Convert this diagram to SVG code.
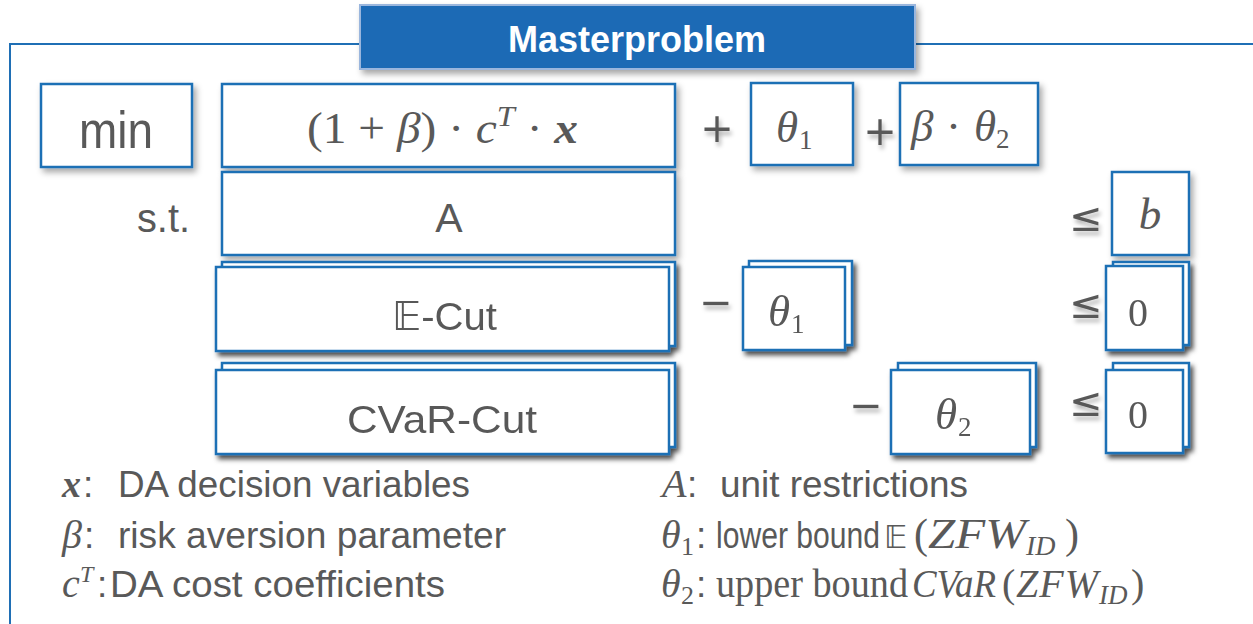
<svg xmlns="http://www.w3.org/2000/svg" width="1253" height="624" viewBox="0 0 1253 624">
  <defs>
    <filter id="shadow" x="-10%" y="-10%" width="130%" height="140%">
      <feDropShadow dx="3" dy="4" stdDeviation="3" flood-color="#000" flood-opacity="0.35"/>
    </filter>
    <filter id="shadowDark" x="-10%" y="-10%" width="130%" height="140%">
      <feDropShadow dx="3" dy="4" stdDeviation="2.5" flood-color="#000" flood-opacity="0.7"/>
    </filter>
    <filter id="glyphShadow" x="-30%" y="-30%" width="160%" height="180%">
      <feDropShadow dx="2" dy="4" stdDeviation="2" flood-color="#000" flood-opacity="0.3"/>
    </filter>
    <style>
      .frame { fill: none; stroke: #1F6FB5; stroke-width: 2; }
      .box { fill: #fff; stroke: #1F6FB5; stroke-width: 2.5; }
      .sans { font-family: "Liberation Sans", Arial, sans-serif; fill: #595959; }
      .math { font-family: "Liberation Serif", "DejaVu Serif", serif; fill: #595959; }
      .it { font-style: italic; }
      .bb { font-family: "DejaVu Sans", "DejaVu Serif", sans-serif; font-style: normal; }
      .op { font-family: "DejaVu Sans", "Liberation Serif", serif; fill: #595959; font-size: 40px; text-anchor: middle; filter: url(#glyphShadow); }
      .c { text-anchor: middle; }
    </style>
  </defs>

  <!-- outer frame -->
  <path class="frame" d="M10,624 V44 H360 M915,44 H1253"/>

  <!-- title -->
  <g id="title">
    <rect x="360" y="5" width="555" height="64" fill="#1A6BB5" stroke="#9AB6DD" stroke-width="2" filter="url(#shadow)"/>
    <text x="637" y="52" font-family="Liberation Sans, Arial, sans-serif" font-weight="bold" font-size="36" fill="#fff" text-anchor="middle">Masterproblem</text>
  </g>

  <!-- objective row -->
  <g id="min">
    <rect class="box" x="41" y="84" width="151" height="83" filter="url(#shadow)"/>
    <text class="sans" x="79" y="148" font-size="52" textLength="74" lengthAdjust="spacingAndGlyphs">min</text>
  </g>
  <g id="objective">
    <rect class="box" x="222" y="84" width="453" height="83" filter="url(#shadow)"/>
    <text class="math" x="307" y="143" font-size="44" textLength="271" lengthAdjust="spacingAndGlyphs">(1 + <tspan class="it">β</tspan>) · <tspan class="it">c</tspan><tspan class="it" font-size="30" dy="-17">T</tspan><tspan dy="17"> · </tspan><tspan class="it" font-weight="bold">x</tspan></text>
  </g>
  <g id="theta1-term">
    <rect class="box" x="751" y="83" width="102" height="82" filter="url(#shadow)"/>
    <text class="math" x="776" y="142" font-size="45"><tspan class="it">θ</tspan><tspan x="799" font-size="27" dy="7">1</tspan></text>
  </g>
  <g id="theta2-term">
    <rect class="box" x="900" y="83" width="138" height="82" filter="url(#shadow)"/>
    <text class="math" x="911" y="141" font-size="45"><tspan class="it">β</tspan><tspan x="946">·</tspan><tspan class="it" x="974">θ</tspan><tspan x="996" font-size="27" dy="7">2</tspan></text>
  </g>

  <!-- constraint rows -->
  <g id="st">
    <text class="sans" x="137" y="232" font-size="40" textLength="53" lengthAdjust="spacingAndGlyphs">s.t.</text>
  </g>
  <g id="A">
    <rect class="box" x="222" y="172" width="453" height="83" filter="url(#shadow)"/>
    <text class="sans c" x="449" y="232" font-size="41">A</text>
  </g>
  <g id="b">
    <rect class="box" x="1112" y="172" width="77" height="83" filter="url(#shadow)"/>
    <text class="math it c" x="1150" y="229" font-size="45">b</text>
  </g>

  <g id="e-cut" filter="url(#shadowDark)">
    <rect class="box" x="222" y="262" width="453" height="84"/>
    <rect class="box" x="216" y="267" width="453" height="84"/>
    <text class="sans" x="392" y="330" font-size="39" textLength="105" lengthAdjust="spacingAndGlyphs"><tspan class="bb">𝔼</tspan>-Cut</text>
  </g>
  <g id="theta1-cut" filter="url(#shadowDark)">
    <rect class="box" x="749" y="261" width="103" height="84"/>
    <rect class="box" x="743" y="267" width="102" height="83"/>
    <text class="math" x="768" y="326" font-size="45"><tspan class="it">θ</tspan><tspan x="791" font-size="27" dy="7">1</tspan></text>
  </g>
  <g id="zero-e" filter="url(#shadowDark)">
    <rect class="box" x="1113" y="262" width="76" height="83"/>
    <rect class="box" x="1106" y="266" width="77" height="84"/>
    <text class="math c" x="1138" y="326" font-size="40">0</text>
  </g>

  <g id="cvar-cut" filter="url(#shadowDark)">
    <rect class="box" x="222" y="363" width="453" height="84"/>
    <rect class="box" x="216" y="370" width="453" height="84"/>
    <text class="sans" x="347" y="433" font-size="39" textLength="190" lengthAdjust="spacingAndGlyphs">CVaR-Cut</text>
  </g>
  <g id="theta2-cut" filter="url(#shadowDark)">
    <rect class="box" x="898" y="363" width="138" height="84"/>
    <rect class="box" x="891" y="370" width="139" height="84"/>
    <text class="math" x="935" y="429" font-size="45"><tspan class="it">θ</tspan><tspan x="958" font-size="27" dy="7">2</tspan></text>
  </g>
  <g id="zero-cvar" filter="url(#shadowDark)">
    <rect class="box" x="1113" y="363" width="76" height="84"/>
    <rect class="box" x="1106" y="370" width="77" height="83"/>
    <text class="math c" x="1138" y="428" font-size="40">0</text>
  </g>

  <!-- operators between the terms -->
  <g id="operators">
    <text class="op" x="717" y="142">+</text>
    <text class="op" x="880" y="145">+</text>
    <text class="op" x="1086" y="231">≤</text>
    <text class="op" x="716" y="316">−</text>
    <text class="op" x="1086" y="318">≤</text>
    <text class="op" x="866" y="419">−</text>
    <text class="op" x="1086" y="416">≤</text>
  </g>

  <!-- legend: variables -->
  <g id="legend-left" font-size="37">
    <text class="sans" y="497"><tspan class="math it" font-weight="bold" x="62" font-size="38">x</tspan><tspan x="83">:</tspan><tspan x="118" textLength="352" lengthAdjust="spacingAndGlyphs">DA decision variables</tspan></text>
    <text class="sans" y="548"><tspan class="math it" x="62" font-size="40">β</tspan><tspan x="84">:</tspan><tspan x="118" textLength="388" lengthAdjust="spacingAndGlyphs">risk aversion parameter</tspan></text>
    <text class="sans" y="597"><tspan class="math it" x="62" font-size="40">c</tspan><tspan class="math it" x="80" font-size="24" dy="-15">T</tspan><tspan x="97" dy="15">:</tspan><tspan x="110" textLength="335" lengthAdjust="spacingAndGlyphs">DA cost coefficients</tspan></text>
  </g>
  <g id="legend-right" font-size="37">
    <text class="sans" y="497"><tspan class="math it" x="662" font-size="40">A</tspan><tspan x="687">:</tspan><tspan x="720" textLength="248" lengthAdjust="spacingAndGlyphs">unit restrictions</tspan></text>
    <text class="sans" y="548"><tspan class="math it" x="661" font-size="40">θ</tspan><tspan class="math" x="681" font-size="26" dy="7">1</tspan><tspan x="696" dy="-7">:</tspan><tspan x="716" textLength="164" lengthAdjust="spacingAndGlyphs">lower bound</tspan><tspan class="bb" x="884" font-size="32">𝔼</tspan><tspan class="math" x="914" font-size="42">(</tspan><tspan class="math it" x="928" font-size="43" textLength="98" lengthAdjust="spacingAndGlyphs">ZFW</tspan><tspan class="math it" x="1026" font-size="28" dy="7">ID</tspan><tspan class="math" x="1065" font-size="42" dy="-7">)</tspan></text>
    <text class="sans" y="597"><tspan class="math it" x="661" font-size="40">θ</tspan><tspan class="math" x="681" font-size="26" dy="7">2</tspan><tspan x="696" dy="-7">:</tspan><tspan class="math" x="716" font-size="40" textLength="192" lengthAdjust="spacingAndGlyphs">upper bound</tspan><tspan class="math it" x="912" font-size="40" textLength="84" lengthAdjust="spacingAndGlyphs">CVaR</tspan><tspan class="math" x="1002" font-size="40">(</tspan><tspan class="math it" x="1016" font-size="40" letter-spacing="1">ZFW</tspan><tspan class="math it" x="1099" font-size="27" dy="7">ID</tspan><tspan class="math" x="1131" font-size="40" dy="-7">)</tspan></text>
  </g>
</svg>
